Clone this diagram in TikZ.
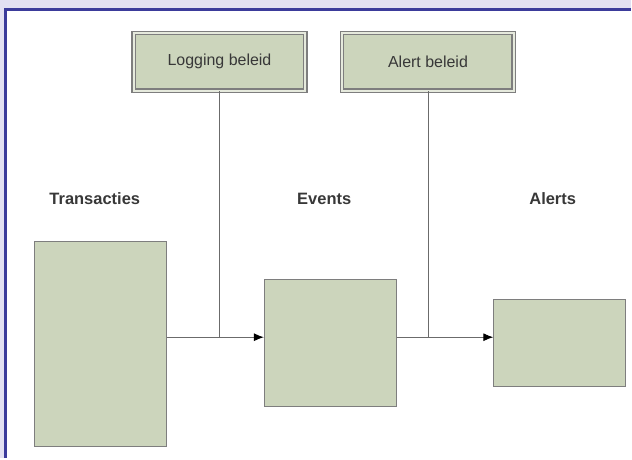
\documentclass[tikz,border=0pt]{standalone}
\usepackage{fontspec}
\setmainfont{Liberation Sans}
\usetikzlibrary{positioning, arrows.meta}

\definecolor{achtergrond}{HTML}{E2E0F2}
\definecolor{randblauw}{HTML}{3B3B9B}
\definecolor{vulgroen}{HTML}{CCD5BC}
\definecolor{randgrijs}{HTML}{7E7E7E}
\definecolor{tekstgrijs}{HTML}{383838}

\begin{document}
\begin{tikzpicture}[x=1pt, y=-1pt,
    blok/.style={draw=randgrijs, fill=vulgroen, line width=1pt, minimum width=132pt, inner sep=0pt},
    beleid/.style={draw=randgrijs, fill=vulgroen, line width=1.4pt, double=vulgroen!50!white, double distance=1.8pt,
        minimum width=172pt, minimum height=58pt, inner sep=0pt, text=tekstgrijs, font=\fontsize{16}{19}\selectfont},
    kop/.style={text=tekstgrijs, font=\fontsize{16.5}{19}\selectfont\bfseries},
    lijn/.style={draw=randgrijs!85!black, line width=0.9pt},
    pijl/.style={lijn, -{Latex[black, length=10pt, width=8pt]}}]
    % Define frame
    \fill[achtergrond] (0,0) rectangle (632,459);
    \fill[white] (7,11) rectangle (632,459);
    \draw[randblauw, line width=3pt] (6,459) -- (6,10) -- (632,10);
    \useasboundingbox (0,0) rectangle (632,459);

    % Define boxes
    \node[beleid] (logging) at (220,62) {Logging beleid};
    \node[beleid] (alert) at (429,62) {Alert beleid};
    \node[blok, minimum height=206pt] (trans) at (101,345) {};
    \node[blok, minimum height=127pt] (events) at (331,343.5) {};
    \node[blok, minimum height=87pt] (alerts) at (561,343.5) {};

    % Define labels
    \node[kop] (ltrans) at (95,199) {Transacties};
    \node[kop] (levents) at (325,199) {Events};
    \node[kop] (lalerts) at (554,199) {Alerts};

    % Define flows
    \coordinate (j1) at (220,338);
    \coordinate (j2) at (429,338);
    \draw[lijn] (logging.south) -- (j1);
    \draw[lijn] (alert.south) -- (j2);
    \draw[pijl] (trans.east |- j1) -- (events.west |- j1);
    \draw[pijl] (events.east |- j2) -- (alerts.west |- j2);
\end{tikzpicture}
\end{document}
